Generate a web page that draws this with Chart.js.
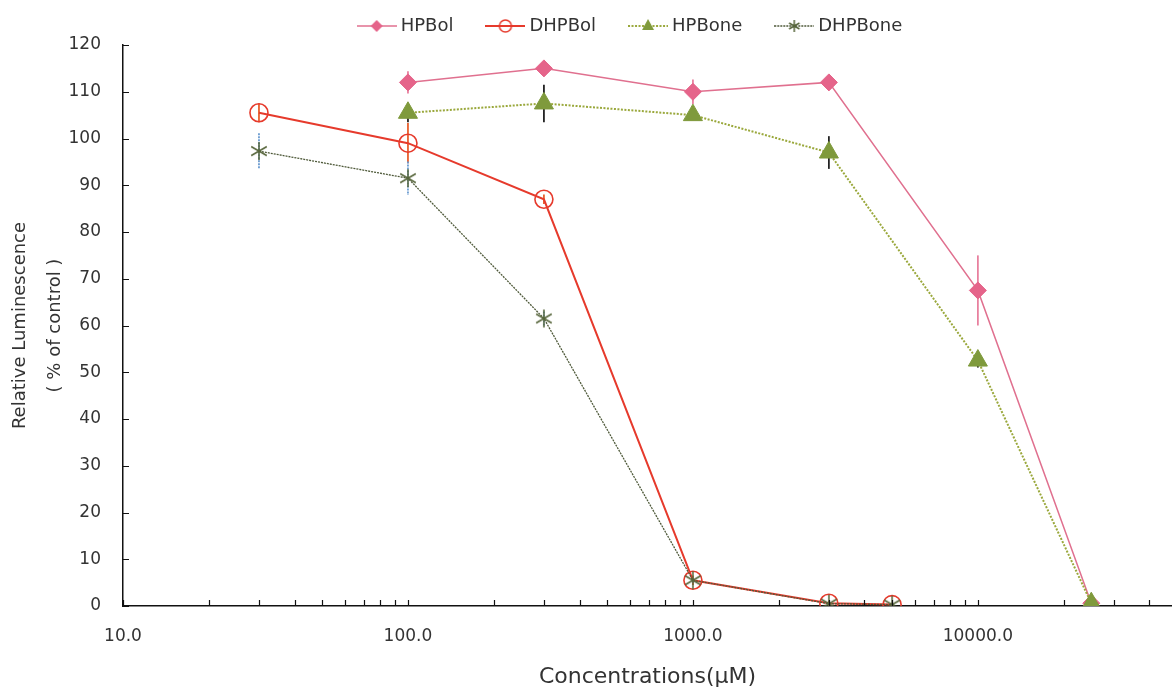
<!DOCTYPE html>
<html><head><meta charset="utf-8">
<script src="https://cdn.jsdelivr.net/npm/chart.js@4.4.0/dist/chart.umd.min.js"></script>
<style>html,body{margin:0;padding:0;background:#fff}</style>
</head><body>
<canvas id="c" width="1172" height="693"></canvas>
<script>
// ---- data ----
const seriesNames = ['HPBol', 'DHPBol', 'HPBone', 'DHPBone'];
const hpbolConc = [100, 300, 1000, 3000, 10000, 25000];
const hpbolVal  = [112, 115, 110, 112, 67.5, 0.6];
const hpbolErr  = [2.4, 1.2, 2.6, 0.8, 7.5, 0.3];
const dhpbolConc = [30, 100, 300, 1000, 3000, 5000];
const dhpbolVal  = [105.5, 99, 87, 5.5, 0.6, 0.3];
const dhpbolErr  = [2, 4.3, 1, 1, 0.5, 0.3];
const hpboneConc = [100, 300, 1000, 3000, 10000, 25000];
const hpboneVal  = [105.5, 107.5, 105, 97, 52.5, 0.6];
const hpboneErr  = [2, 4, 1, 3.5, 1.5, 0.3];
const dhpboneConc = [30, 100, 300, 1000, 3000, 5000];
const dhpboneVal  = [97.3, 91.5, 61.5, 5.5, 0.5, 0.3];
const dhpboneErr  = [3.8, 3.6, 1.5, 0.5, 0.3, 0.3];
const xMajorTicks = [10, 100, 1000, 10000];
const xMinorTicks = [20, 30, 40, 50, 60, 70, 80, 90,
                     200, 300, 400, 500, 600, 700, 800, 900,
                     2000, 3000, 4000, 5000, 6000, 7000, 8000, 9000,
                     20000, 30000, 40000];
const yTicks = [0, 10, 20, 30, 40, 50, 60, 70, 80, 90, 100, 110, 120];
const xTitle = 'Concentrations(\u00b5M)';
const yTitle = ['Relative Luminescence', '( % of control )'];

const FONT = "'DejaVu Sans', sans-serif";
const toPts = (xs, ys) => xs.map((x, i) => ({x: x, y: ys[i]}));

// asterisk marker (X with vertical stroke)
function makeAsterisk(color, r) {
  const c = document.createElement('canvas');
  c.width = 2 * r + 4; c.height = 2 * r + 4;
  const g = c.getContext('2d');
  g.strokeStyle = color; g.lineWidth = 1.5;
  const cx = c.width / 2, cy = c.height / 2;
  g.beginPath();
  for (let k = 0; k < 3; k++) {
    const a = Math.PI / 2 + k * Math.PI / 3;
    g.moveTo(cx + r * Math.cos(a), cy + r * Math.sin(a));
    g.lineTo(cx - r * Math.cos(a), cy - r * Math.sin(a));
  }
  g.stroke();
  return c;
}
const asteriskMarker = makeAsterisk('#56653a', 9);

const styles = [
  {line: '#e0708f', dash: [], width: 1.5, marker: 'rectRot', fill: '#e5648a', stroke: '#e5648a', r: 8.5, err: '#e8809f', errDash: []},
  {line: '#e63a2c', dash: [], width: 2, marker: 'circle', fill: 'rgba(0,0,0,0)', stroke: '#e63a2c', r: 9, err: '#e8602e', errDash: []},
  {line: '#9aa83c', dash: [2, 1.5], width: 2, marker: 'triangle', fill: '#7f9a3c', stroke: '#7f9a3c', r: 11, err: '#222222', errDash: []},
  {line: '#4f5a3a', dash: [2, 1], width: 1.3, marker: asteriskMarker, fill: '#56653a', stroke: '#56653a', r: 9, err: '#6a9bd0', errDash: [2, 1]}
];
const errs = [hpbolErr, dhpbolErr, hpboneErr, dhpboneErr];

// legend icons: line with marker in the middle
function legendIcon(s) {
  const c = document.createElement('canvas');
  c.width = 40; c.height = 20;
  const g = c.getContext('2d');
  g.strokeStyle = s.line; g.lineWidth = s.width; g.setLineDash(s.dash);
  g.beginPath(); g.moveTo(0, 10); g.lineTo(40, 10); g.stroke();
  g.setLineDash([]);
  const cx = 20, cy = 10;
  if (s.marker === 'rectRot') {
    g.fillStyle = s.fill; g.beginPath();
    g.moveTo(cx, cy - 6); g.lineTo(cx + 6, cy); g.lineTo(cx, cy + 6); g.lineTo(cx - 6, cy); g.closePath(); g.fill();
  } else if (s.marker === 'circle') {
    g.strokeStyle = s.stroke; g.lineWidth = 1.5; g.beginPath(); g.arc(cx, cy, 6, 0, 2 * Math.PI); g.stroke();
  } else if (s.marker === 'triangle') {
    g.fillStyle = s.fill; g.beginPath();
    g.moveTo(cx, cy - 7); g.lineTo(cx + 6, cy + 4); g.lineTo(cx - 6, cy + 4); g.closePath(); g.fill();
  } else {
    g.drawImage(makeAsterisk(s.fill, 6), cx - 8, cy - 8);
  }
  return c;
}
const legendIcons = styles.map(legendIcon);

const seriesData = [
  toPts(hpbolConc, hpbolVal), toPts(dhpbolConc, dhpbolVal),
  toPts(hpboneConc, hpboneVal), toPts(dhpboneConc, dhpboneVal)
];
const drawOrder = [4, 3, 1, 2];

const datasets = seriesNames.map((name, i) => ({
  label: name,
  data: seriesData[i],
  borderColor: styles[i].line,
  borderWidth: styles[i].width,
  borderDash: styles[i].dash,
  backgroundColor: styles[i].fill,
  pointStyle: styles[i].marker,
  pointRadius: styles[i].r,
  pointHoverRadius: styles[i].r,
  pointBackgroundColor: styles[i].fill,
  pointBorderColor: styles[i].stroke,
  pointBorderWidth: styles[i].marker === 'circle' ? 1.6 : 1,
  tension: 0,
  fill: false,
  order: drawOrder[i]
}));

const errorBars = {
  id: 'errorBars',
  beforeDatasetsDraw(chart) {
    const {ctx, scales: {x, y}} = chart;
    ctx.save();
    chart.data.datasets.forEach((ds, i) => {
      ctx.strokeStyle = styles[i].err; ctx.lineWidth = 1.8; ctx.setLineDash(styles[i].errDash);
      ds.data.forEach((p, j) => {
        const e = errs[i][j];
        const px = x.getPixelForValue(p.x);
        ctx.beginPath();
        ctx.moveTo(px, y.getPixelForValue(p.y + e));
        ctx.lineTo(px, y.getPixelForValue(Math.max(0, p.y - e)));
        ctx.stroke();
      });
    });
    ctx.restore();
  }
};

const innerTicks = {
  id: 'innerTicks',
  afterDraw(chart) {
    const {ctx, scales: {x, y}} = chart;
    ctx.save();
    ctx.strokeStyle = '#111'; ctx.lineWidth = 1.2;
    ctx.beginPath();
    x.ticks.forEach(t => {
      const px = Math.round(x.getPixelForValue(t.value)) + 0.5;
      ctx.moveTo(px, y.bottom); ctx.lineTo(px, y.bottom - 6);
    });
    y.ticks.forEach(t => {
      const py = Math.round(y.getPixelForValue(t.value)) + 0.5;
      ctx.moveTo(x.left, py); ctx.lineTo(x.left + 6, py);
    });
    ctx.stroke();
    ctx.restore();
  }
};

// the reference legend is centred a little left of the plot centre
const legendShift = {
  id: 'legendShift',
  afterLayout(chart) { if (chart.legend) chart.legend.left = 92; }
};

new Chart(document.getElementById('c'), {
  type: 'line',
  data: {datasets},
  plugins: [errorBars, innerTicks, legendShift],
  options: {
    responsive: false,
    animation: false,
    layout: {autoPadding: false, padding: {top: -20, right: 0, bottom: 0, left: 0}},
    plugins: {
      tooltip: {enabled: false},
      legend: {
        position: 'top',
        fullSize: true,
        labels: {
          usePointStyle: true,
          pointStyleWidth: 30,
          padding: 37,
          color: '#333',
          font: {family: FONT, size: 18},
          sort: (a, b) => a.datasetIndex - b.datasetIndex,
          generateLabels(chart) {
            const base = Chart.defaults.plugins.legend.labels.generateLabels(chart);
            return base.map(l => Object.assign(l, {pointStyle: legendIcons[l.datasetIndex]}));
          }
        }
      }
    },
    scales: {
      x: {
        type: 'logarithmic',
        min: 10,
        max: 48000,
        afterFit(s) { s.height = 87; s.paddingRight = 0; },
        afterBuildTicks(s) {
          s.ticks = xMajorTicks.concat(xMinorTicks).sort((a, b) => a - b).map(v => ({value: v, major: xMajorTicks.includes(v)}));
        },
        grid: {display: false, drawTicks: false},
        border: {display: true, color: '#111', width: 1.5},
        ticks: {
          autoSkip: false, maxRotation: 0, padding: 20,
          color: '#333', font: {family: FONT, size: 17},
          callback: v => xMajorTicks.includes(v) ? v.toFixed(1) : ''
        },
        title: {display: true, text: xTitle, color: '#333', font: {family: FONT, size: 22}, padding: {top: 0, bottom: 3}}
      },
      y: {
        type: 'linear',
        min: 0, max: 120,
        afterFit(s) { s.width = 123; },
        afterBuildTicks(s) { s.ticks = yTicks.map(v => ({value: v})); },
        grid: {display: false, drawTicks: false},
        border: {display: true, color: '#111', width: 1.5},
        ticks: {padding: 22, color: '#333', font: {family: FONT, size: 17}},
        title: {display: true, text: yTitle, color: '#333', font: {family: FONT, size: 18, lineHeight: 1.944}, padding: {top: 2.5, bottom: 0}}
      }
    }
  }
});
</script>
</body></html>
